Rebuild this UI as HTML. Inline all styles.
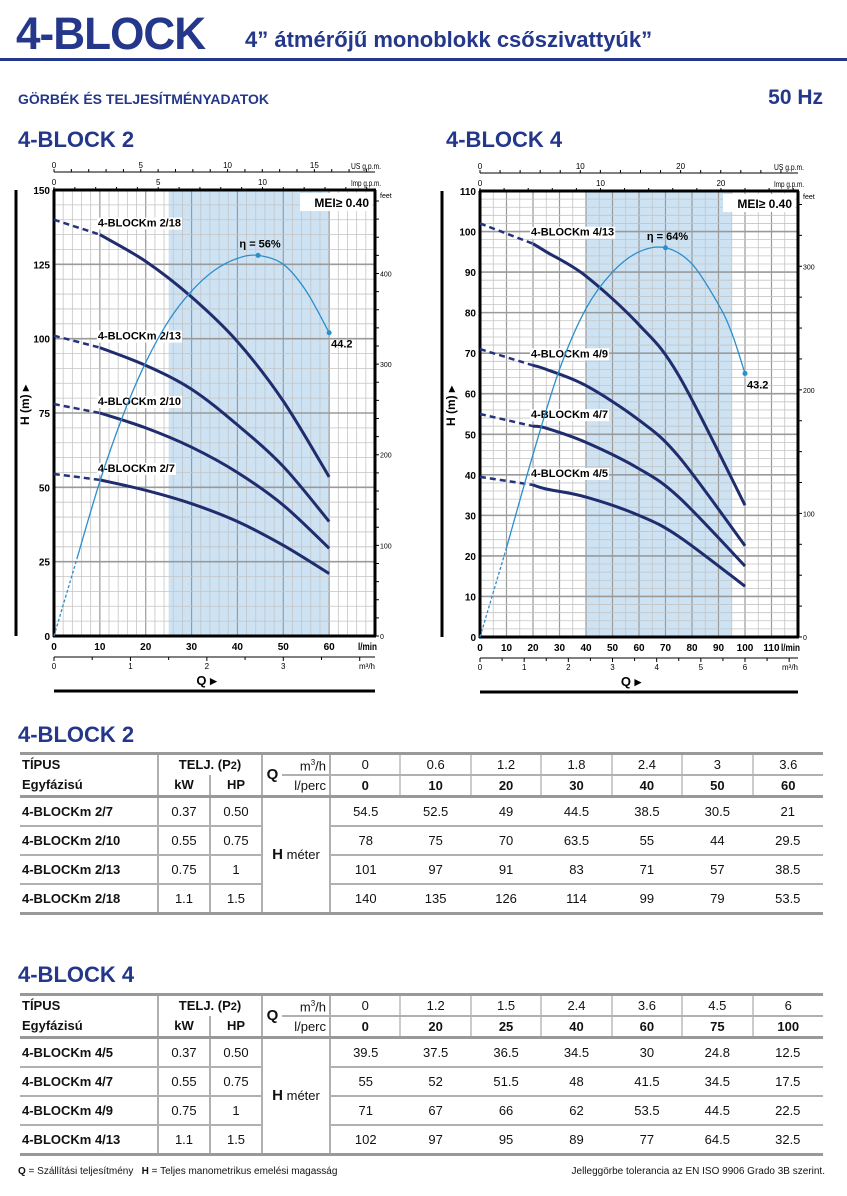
<!DOCTYPE html>
<html><head><meta charset="utf-8">
<style>
html,body{margin:0;padding:0;background:#fff;}
body{width:847px;height:1196px;position:relative;overflow:hidden;font-family:"Liberation Sans Narrow","Liberation Sans",sans-serif;color:#111;}
.abs{position:absolute;white-space:nowrap;}
.navy{color:#24378a;font-weight:bold;}
table.t{position:absolute;left:20px;border-collapse:collapse;font-size:13px;table-layout:fixed;line-height:14px;}
table.t td{padding:0;text-align:center;border-color:#a0a0a0;}
table.t td.name{text-align:left;font-weight:bold;padding-left:2px;}
table.t tr.h td{height:19px;}
table.t tr.d td{height:27px;border-top:2px solid #b0b0b0;}
</style></head>
<body>
<div class="abs navy" style="left:16px;top:8px;font-size:45px;letter-spacing:-1px;transform:scaleX(0.98);transform-origin:left;">4-BLOCK</div>
<div class="abs navy" style="left:245px;top:27px;font-size:22px;">4” átmérőjű monoblokk csőszivattyúk”</div>
<div class="abs" style="left:0;top:58px;width:847px;height:3px;background:#24378a;"></div>
<div class="abs navy" style="left:18px;top:91px;font-size:14px;">GÖRBÉK ÉS TELJESÍTMÉNYADATOK</div>
<div class="abs navy" style="right:24px;top:86px;font-size:21px;">50 Hz</div>
<div class="abs navy" style="left:18px;top:127px;font-size:22px;">4-BLOCK 2</div>
<div class="abs navy" style="left:446px;top:127px;font-size:22px;">4-BLOCK 4</div>

<svg id="charts" width="847" height="720" style="position:absolute;left:0;top:0;" font-family="Liberation Sans Narrow, Liberation Sans, sans-serif"></svg>

<div class="abs navy" style="left:18px;top:722px;font-size:22px;">4-BLOCK 2</div>
<table class="t" style="top:752px;width:803px;border-top:3px solid #999;border-bottom:3px solid #999;">
<colgroup><col style="width:138px"><col style="width:52px"><col style="width:52px"><col style="width:20px"><col style="width:48px"><col><col><col><col><col><col><col></colgroup>
<tr class="h"><td class="name">TÍPUS</td><td colspan="2" style="border-left:2px solid #b0b0b0;font-weight:bold">TELJ. (P<span style="font-size:11px">2</span>)</td><td rowspan="2" style="border-left:2px solid #b0b0b0;font-weight:bold;font-size:15px">Q</td><td style="text-align:right;padding-right:3px;border-bottom:2px solid #b0b0b0">m<sup style="font-size:8px">3</sup>/h</td><td style="border-left:2px solid #b0b0b0;border-bottom:2px solid #b0b0b0">0</td><td style="border-left:2px solid #ccc;border-bottom:2px solid #b0b0b0">0.6</td><td style="border-left:2px solid #ccc;border-bottom:2px solid #b0b0b0">1.2</td><td style="border-left:2px solid #ccc;border-bottom:2px solid #b0b0b0">1.8</td><td style="border-left:2px solid #ccc;border-bottom:2px solid #b0b0b0">2.4</td><td style="border-left:2px solid #ccc;border-bottom:2px solid #b0b0b0">3</td><td style="border-left:2px solid #ccc;border-bottom:2px solid #b0b0b0">3.6</td></tr>
<tr class="h"><td class="name">Egyfázisú</td><td style="border-left:2px solid #b0b0b0;font-weight:bold">kW</td><td style="border-left:2px solid #b0b0b0;font-weight:bold">HP</td><td style="text-align:right;padding-right:3px">l/perc</td><td style="border-left:2px solid #b0b0b0;font-weight:bold">0</td><td style="border-left:2px solid #ccc;font-weight:bold">10</td><td style="border-left:2px solid #ccc;font-weight:bold">20</td><td style="border-left:2px solid #ccc;font-weight:bold">30</td><td style="border-left:2px solid #ccc;font-weight:bold">40</td><td style="border-left:2px solid #ccc;font-weight:bold">50</td><td style="border-left:2px solid #ccc;font-weight:bold">60</td></tr>
<tr class="d" style="border-top:3px solid #999"><td class="name">4-BLOCKm 2/7</td><td style="border-left:2px solid #b0b0b0">0.37</td><td style="border-left:2px solid #b0b0b0">0.50</td><td colspan="2" rowspan="4" style="border-left:2px solid #b0b0b0;border-right:2px solid #b0b0b0"><b style="font-size:15px">H</b> méter</td><td>54.5</td><td>52.5</td><td>49</td><td>44.5</td><td>38.5</td><td>30.5</td><td>21</td></tr>
<tr class="d"><td class="name">4-BLOCKm 2/10</td><td style="border-left:2px solid #b0b0b0">0.55</td><td style="border-left:2px solid #b0b0b0">0.75</td><td>78</td><td>75</td><td>70</td><td>63.5</td><td>55</td><td>44</td><td>29.5</td></tr>
<tr class="d"><td class="name">4-BLOCKm 2/13</td><td style="border-left:2px solid #b0b0b0">0.75</td><td style="border-left:2px solid #b0b0b0">1</td><td>101</td><td>97</td><td>91</td><td>83</td><td>71</td><td>57</td><td>38.5</td></tr>
<tr class="d"><td class="name">4-BLOCKm 2/18</td><td style="border-left:2px solid #b0b0b0">1.1</td><td style="border-left:2px solid #b0b0b0">1.5</td><td>140</td><td>135</td><td>126</td><td>114</td><td>99</td><td>79</td><td>53.5</td></tr>
</table>

<div class="abs navy" style="left:18px;top:962px;font-size:22px;">4-BLOCK 4</div>
<table class="t" style="top:993px;width:803px;border-top:3px solid #999;border-bottom:3px solid #999;">
<colgroup><col style="width:138px"><col style="width:52px"><col style="width:52px"><col style="width:20px"><col style="width:48px"><col><col><col><col><col><col><col></colgroup>
<tr class="h"><td class="name">TÍPUS</td><td colspan="2" style="border-left:2px solid #b0b0b0;font-weight:bold">TELJ. (P<span style="font-size:11px">2</span>)</td><td rowspan="2" style="border-left:2px solid #b0b0b0;font-weight:bold;font-size:15px">Q</td><td style="text-align:right;padding-right:3px;border-bottom:2px solid #b0b0b0">m<sup style="font-size:8px">3</sup>/h</td><td style="border-left:2px solid #b0b0b0;border-bottom:2px solid #b0b0b0">0</td><td style="border-left:2px solid #ccc;border-bottom:2px solid #b0b0b0">1.2</td><td style="border-left:2px solid #ccc;border-bottom:2px solid #b0b0b0">1.5</td><td style="border-left:2px solid #ccc;border-bottom:2px solid #b0b0b0">2.4</td><td style="border-left:2px solid #ccc;border-bottom:2px solid #b0b0b0">3.6</td><td style="border-left:2px solid #ccc;border-bottom:2px solid #b0b0b0">4.5</td><td style="border-left:2px solid #ccc;border-bottom:2px solid #b0b0b0">6</td></tr>
<tr class="h"><td class="name">Egyfázisú</td><td style="border-left:2px solid #b0b0b0;font-weight:bold">kW</td><td style="border-left:2px solid #b0b0b0;font-weight:bold">HP</td><td style="text-align:right;padding-right:3px">l/perc</td><td style="border-left:2px solid #b0b0b0;font-weight:bold">0</td><td style="border-left:2px solid #ccc;font-weight:bold">20</td><td style="border-left:2px solid #ccc;font-weight:bold">25</td><td style="border-left:2px solid #ccc;font-weight:bold">40</td><td style="border-left:2px solid #ccc;font-weight:bold">60</td><td style="border-left:2px solid #ccc;font-weight:bold">75</td><td style="border-left:2px solid #ccc;font-weight:bold">100</td></tr>
<tr class="d" style="border-top:3px solid #999"><td class="name">4-BLOCKm 4/5</td><td style="border-left:2px solid #b0b0b0">0.37</td><td style="border-left:2px solid #b0b0b0">0.50</td><td colspan="2" rowspan="4" style="border-left:2px solid #b0b0b0;border-right:2px solid #b0b0b0"><b style="font-size:15px">H</b> méter</td><td>39.5</td><td>37.5</td><td>36.5</td><td>34.5</td><td>30</td><td>24.8</td><td>12.5</td></tr>
<tr class="d"><td class="name">4-BLOCKm 4/7</td><td style="border-left:2px solid #b0b0b0">0.55</td><td style="border-left:2px solid #b0b0b0">0.75</td><td>55</td><td>52</td><td>51.5</td><td>48</td><td>41.5</td><td>34.5</td><td>17.5</td></tr>
<tr class="d"><td class="name">4-BLOCKm 4/9</td><td style="border-left:2px solid #b0b0b0">0.75</td><td style="border-left:2px solid #b0b0b0">1</td><td>71</td><td>67</td><td>66</td><td>62</td><td>53.5</td><td>44.5</td><td>22.5</td></tr>
<tr class="d"><td class="name">4-BLOCKm 4/13</td><td style="border-left:2px solid #b0b0b0">1.1</td><td style="border-left:2px solid #b0b0b0">1.5</td><td>102</td><td>97</td><td>95</td><td>89</td><td>77</td><td>64.5</td><td>32.5</td></tr>
</table>
<div class="abs" style="left:18px;top:1166px;font-size:10px;"><b>Q</b> = Szállítási teljesítmény &nbsp;&nbsp;<b>H</b> = Teljes manometrikus emelési magasság</div>
<div class="abs" style="right:22px;top:1166px;font-size:10px;">Jelleggörbe tolerancia az EN ISO 9906 Grado 3B szerint.</div>

<script>
// ---- chart data ----
const q2 = [0, 10, 20, 30, 40, 50, 60];
const h2_7 = [54.5, 52.5, 49, 44.5, 38.5, 30.5, 21];
const h2_10 = [78, 75, 70, 63.5, 55, 44, 29.5];
const h2_13 = [101, 97, 91, 83, 71, 57, 38.5];
const h2_18 = [140, 135, 126, 114, 99, 79, 53.5];
const names2 = ["4-BLOCKm 2/7", "4-BLOCKm 2/10", "4-BLOCKm 2/13", "4-BLOCKm 2/18"];
const effQ2 = [0, 5, 10, 15, 20, 25, 30, 35, 40, 44.5, 50, 55, 60];
const effH2 = [0, 26, 52, 74, 92, 106, 116, 123, 127, 128, 125, 116, 102];
const yTicks2 = [0, 25, 50, 75, 100, 125, 150];
const xTicks2 = [0, 10, 20, 30, 40, 50, 60];

const q4 = [0, 20, 25, 40, 60, 75, 100];
const h4_5 = [39.5, 37.5, 36.5, 34.5, 30, 24.8, 12.5];
const h4_7 = [55, 52, 51.5, 48, 41.5, 34.5, 17.5];
const h4_9 = [71, 67, 66, 62, 53.5, 44.5, 22.5];
const h4_13 = [102, 97, 95, 89, 77, 64.5, 32.5];
const names4 = ["4-BLOCKm 4/5", "4-BLOCKm 4/7", "4-BLOCKm 4/9", "4-BLOCKm 4/13"];
const effQ4 = [0, 10, 20, 30, 40, 50, 60, 70, 80, 90, 95, 100];
const effH4 = [0, 22, 45, 66, 81, 90, 95, 96, 92, 82, 75, 65];
const yTicks4 = [0, 10, 20, 30, 40, 50, 60, 70, 80, 90, 100, 110];
const xTicks4 = [0, 10, 20, 30, 40, 50, 60, 70, 80, 90, 100, 110];

const NS = "http://www.w3.org/2000/svg";
const svg = document.getElementById("charts");
function el(tag, attrs, parent, text) {
  const e = document.createElementNS(NS, tag);
  for (const k in attrs) e.setAttribute(k, attrs[k]);
  if (text !== undefined) e.textContent = text;
  (parent || svg).appendChild(e);
  return e;
}
function smooth(pts) {
  let d = "M" + pts[0][0] + "," + pts[0][1];
  for (let i = 0; i < pts.length - 1; i++) {
    const p0 = pts[i - 1] || pts[i], p1 = pts[i], p2 = pts[i + 1], p3 = pts[i + 2] || p2;
    const c1 = [p1[0] + (p2[0] - p0[0]) / 6, p1[1] + (p2[1] - p0[1]) / 6];
    const c2 = [p2[0] - (p3[0] - p1[0]) / 6, p2[1] - (p3[1] - p1[1]) / 6];
    d += " C" + c1[0] + "," + c1[1] + " " + c2[0] + "," + c2[1] + " " + p2[0] + "," + p2[1];
  }
  return d;
}

function drawChart(c) {
  const g = el("g", {});
  
  
  const X = q => c.x0 + (q / c.xMax) * (c.x1 - c.x0);
  const Y = h => c.y0 - (h / c.yMax) * (c.y0 - c.y1);
  const band = el("rect", {x: X(c.band[0]), y: c.y1, width: X(c.band[1]) - X(c.band[0]), height: c.y0 - c.y1, fill: "#cde3f4"}, g);
  
  
  for (let q = 0; q <= c.xMax + 0.001; q += c.xMinor) {
    const major = Math.abs(q / 10 - Math.round(q / 10)) < 0.001;
    el("line", {x1: X(q), x2: X(q), y1: c.y1, y2: c.y0, stroke: major ? "#9a9a9a" : "#c4c4c4", "stroke-width": major ? 1.2 : 0.8}, g);
  }
  for (let h = 0; h <= c.yMax + 0.001; h += c.yMinor) {
    const major = Math.abs(h / c.yMajor - Math.round(h / c.yMajor)) < 0.001;
    el("line", {x1: c.x0, x2: c.x1, y1: Y(h), y2: Y(h), stroke: major ? "#9a9a9a" : "#c4c4c4", "stroke-width": major ? 1.6 : 0.8}, g);
  }
  el("line", {x1: c.x0, x2: c.x0, y1: c.y1, y2: c.y0 + 1, stroke: "#000", "stroke-width": 3}, g);
  el("line", {x1: c.x0 - 1, x2: c.x1 + 1, y1: c.y0, y2: c.y0, stroke: "#000", "stroke-width": 3}, g);
  el("line", {x1: c.x0 - 1, x2: c.x1 + 1, y1: c.y1, y2: c.y1, stroke: "#000", "stroke-width": 3}, g);
  el("line", {x1: c.x1, x2: c.x1, y1: c.y1, y2: c.y0, stroke: "#000", "stroke-width": 3}, g);
  c.yTicks.forEach(t => {
    const lab = el("text", {x: c.x0 - 4, y: Y(t) + 4, "text-anchor": "end", "font-size": 10, "font-weight": "bold"}, g, String(t));
    
    
  });
  c.xTicks.forEach(t => {
    const lab = el("text", {x: X(t), y: c.y0 + 14, "text-anchor": "middle", "font-size": 10, "font-weight": "bold"}, g, String(t));
    
    
  });
  el("text", {x: c.x1 + 2, y: c.y0 + 14, "text-anchor": "end", "font-size": 10, "font-weight": "bold", textLength: 19, lengthAdjust: "spacingAndGlyphs"}, g, "l/min");
  const ym = c.y0 + 21;
  el("line", {x1: c.x0, x2: c.x1, y1: ym, y2: ym, stroke: "#000", "stroke-width": 1}, g);
  for (let m = 0; m * 1000 / 60 <= c.xMax; m += 0.5) {
    el("line", {x1: X(m * 1000 / 60), x2: X(m * 1000 / 60), y1: ym, y2: ym + (m % 1 === 0 ? 4 : 3), stroke: "#000"}, g);
    if (m % 1 === 0 && X(m * 1000 / 60) < c.x1 - 18) el("text", {x: X(m * 1000 / 60), y: ym + 12, "text-anchor": "middle", "font-size": 8}, g, String(m));
  }
  el("text", {x: c.x1, y: ym + 12, "text-anchor": "end", "font-size": 8}, g, "m³/h");
  const qlab = el("text", {x: (c.x0 + c.x1) / 2 - 8, y: ym + 28, "text-anchor": "middle", "font-size": 13, "font-weight": "bold"}, g, "Q ▸");
  
  
  el("line", {x1: c.x0, x2: c.x1, y1: ym + 34, y2: ym + 34, stroke: "#000", "stroke-width": 3}, g);
  const yu = c.y1 - 18;
  el("line", {x1: c.x0, x2: c.x1, y1: yu, y2: yu, stroke: "#000", "stroke-width": 1}, g);
  for (let u = 0; u * 3.785 <= c.xMax; u += c.usStep / 5) {
    el("line", {x1: X(u * 3.785), x2: X(u * 3.785), y1: yu, y2: yu - 3, stroke: "#000"}, g);
  }
  for (let u = 0; u * 3.785 <= c.xMax; u += c.usStep) {
    if (X(u * 3.785) < c.x1 - 25) el("text", {x: X(u * 3.785), y: yu - 4, "text-anchor": "middle", "font-size": 8}, g, String(u));
  }
  el("text", {x: c.x1 + 6, y: yu - 3, "text-anchor": "end", "font-size": 8, textLength: 30, lengthAdjust: "spacingAndGlyphs"}, g, "US g.p.m.");
  for (let u = 0; u * 4.546 <= c.xMax; u += c.usStep / 5) {
    el("line", {x1: X(u * 4.546), x2: X(u * 4.546), y1: c.y1, y2: c.y1 - 3, stroke: "#000"}, g);
  }
  for (let u = 0; u * 4.546 <= c.xMax; u += c.usStep) {
    if (X(u * 4.546) < c.x1 - 25) el("text", {x: X(u * 4.546), y: c.y1 - 5, "text-anchor": "middle", "font-size": 8}, g, String(u));
  }
  el("text", {x: c.x1 + 6, y: c.y1 - 4, "text-anchor": "end", "font-size": 8, textLength: 30, lengthAdjust: "spacingAndGlyphs"}, g, "Imp g.p.m.");
  el("text", {x: c.x1 + 5, y: c.y1 + 8, "font-size": 7}, g, "feet");
  for (let f = 0; f * 0.3048 <= c.yMax; f += c.ftMinor) {
    el("line", {x1: c.x1, x2: c.x1 + 4, y1: Y(f * 0.3048), y2: Y(f * 0.3048), stroke: "#000"}, g);
    if (f % 100 === 0) el("text", {x: c.x1 + 5, y: Y(f * 0.3048) + 3, "font-size": 7}, g, String(f));
  }
  el("line", {x1: c.hx, x2: c.hx, y1: c.y1, y2: c.y0, stroke: "#000", "stroke-width": 3}, g);
  const ht = el("text", {x: c.hx + 13, y: (c.y0 + c.y1) / 2 - 8, "text-anchor": "middle", "font-size": 12, "font-weight": "bold", transform: "rotate(-90 " + (c.hx + 13) + " " + ((c.y0 + c.y1) / 2 - 8) + ")"}, g, "H (m) ▸");
  
  
  el("rect", {x: c.x1 - 75, y: c.y1 + 3, width: 72, height: 18, fill: "#fff"}, g);
  el("text", {x: c.x1 - 6, y: c.y1 + 17, "text-anchor": "end", "font-size": 12, "font-weight": "bold", "font-family": "Liberation Sans, sans-serif"}, g, "MEI≥ 0.40");
  c.series.forEach((s, i) => {
    const pts = c.q.map((q, j) => [X(q), Y(s[j])]);
    const sg = el("g", {}, g);
    
    
    el("path", {d: smooth(pts.slice(0, 2)), fill: "none", stroke: "#24337a", "stroke-width": 2.5, "stroke-dasharray": "6 4"}, sg);
    el("path", {d: smooth(pts.slice(1)), fill: "none", stroke: "#1f2d6e", "stroke-width": 3}, sg);
    const lx = pts[1][0] - 2, ly = pts[1][1] - 8;
    const t = el("text", {x: lx, y: ly, "font-size": 11, "font-weight": "bold"}, sg, c.names[i]);
    const bb = t.getBBox();
    el("rect", {x: bb.x - 1, y: bb.y, width: bb.width + 2, height: bb.height, fill: "#fff"}, sg);
    sg.appendChild(t);
  });
  const epts = c.effQ.map((q, j) => [X(q), Y(c.effH[j])]);
  const eg = el("g", {}, g);
  
  
  el("path", {d: smooth(epts.slice(0, c.effDash + 1)), fill: "none", stroke: "#2a8fcc", "stroke-width": 1.3, "stroke-dasharray": "3 2"}, eg);
  el("path", {d: smooth(epts.slice(c.effDash)), fill: "none", stroke: "#2a8fcc", "stroke-width": 1.3}, eg);
  let pk = 0; c.effH.forEach((v, j) => { if (v > c.effH[pk]) pk = j; });
  el("circle", {cx: epts[pk][0], cy: epts[pk][1], r: 2.5, fill: "#2a8fcc"}, eg);
  el("text", {x: epts[pk][0] + 2, y: epts[pk][1] - 8, "text-anchor": "middle", "font-size": 11, "font-weight": "bold"}, eg, c.effLabel);
  const last = epts[epts.length - 1];
  el("circle", {cx: last[0], cy: last[1], r: 2.5, fill: "#2a8fcc"}, eg);
  el("text", {x: last[0] + 2, y: last[1] + 15, "font-size": 11, "font-weight": "bold"}, eg, c.endLabel);
}

drawChart({id: "chart-4block2", x0: 54, x1: 375, y0: 636, y1: 190, xMax: 70, yMax: 150, xMinor: 2, yMinor: 5, yMajor: 25,
  band: [25, 60], yTicks: yTicks2, xTicks: xTicks2, usStep: 5, ftMinor: 20, hx: 16,
  q: q2, series: [h2_7, h2_10, h2_13, h2_18], names: names2, effQ: effQ2, effH: effH2, effDash: 1,
  effLabel: "η = 56%", endLabel: "44.2"});
drawChart({id: "chart-4block4", x0: 480, x1: 798, y0: 637, y1: 191, xMax: 120, yMax: 110, xMinor: 5, yMinor: 2, yMajor: 10,
  band: [40, 95], yTicks: yTicks4, xTicks: xTicks4, usStep: 10, ftMinor: 25, hx: 442,
  q: q4, series: [h4_5, h4_7, h4_9, h4_13], names: names4, effQ: effQ4, effH: effH4, effDash: 1,
  effLabel: "η = 64%", endLabel: "43.2"});
</script>
</body></html>
